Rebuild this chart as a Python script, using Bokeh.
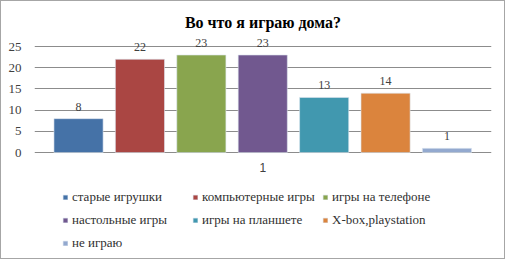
from bokeh.plotting import figure
from bokeh.models import ColumnDataSource, FixedTicker, Legend, LegendItem, LabelSet, Label
from bokeh.embed import file_html
from bokeh.resources import INLINE

title = "Во что я играю дома?"
categories = ["старые игрушки", "компьютерные игры", "игры на телефоне",
              "настольные игры", "игры на планшете", "X-box,playstation", "не играю"]
values = [8, 22, 23, 23, 13, 14, 1]
colors = ["#4572A7", "#AA4643", "#89A54E", "#71588F", "#4198AF", "#DB843D", "#93A9CF"]
y_ticks = [0, 5, 10, 15, 20, 25]
group_label = "1"

SERIF = "Liberation Serif"
SANS = "Liberation Sans"

xs = list(range(1, len(values) + 1))

p = figure(width=505, height=259, output_backend="svg", toolbar_location=None,
           x_range=(0.283, 7.725), y_range=(-25.2, 27.6),
           min_border_left=33, min_border_right=15, min_border_top=34, min_border_bottom=1)
p.outline_line_color = None
p.border_fill_color = "white"
p.background_fill_color = "white"

src = ColumnDataSource(dict(x=xs, top=values, lbl=[str(v) for v in values]))

renderers = []
for i in range(len(values)):
    r = p.vbar(x=[xs[i]], top=[values[i]], bottom=0, width=0.8,
               fill_color=colors[i], line_color="#DDE6F0", line_width=0.6)
    renderers.append(r)

labels = LabelSet(x="x", y="top", text="lbl", source=src, x_offset=0, y_offset=8,
                  text_align="center", text_baseline="alphabetic",
                  text_font=SANS, text_font_size="12px", text_color="#404040")
p.add_layout(labels)

cat = Label(x=4, y=0, text=group_label, y_offset=-10, text_align="center",
            text_baseline="top", text_font=SANS, text_font_size="12px",
            text_color="#404040")
p.add_layout(cat)

p.title.text = title
p.title.align = "center"
p.title.text_font = SERIF
p.title.text_font_size = "16px"
p.title.text_font_style = "bold"
p.title.text_color = "black"
p.title.offset = 0
p.title.standoff = 10

p.xaxis.visible = False
p.xgrid.visible = False
p.ygrid.grid_line_color = "#8C8C8C"
p.ygrid.grid_line_width = 1
p.yaxis.ticker = FixedTicker(ticks=y_ticks)
p.yaxis.axis_line_color = None
p.yaxis.major_tick_line_color = None
p.yaxis.minor_tick_line_color = None
p.yaxis.major_label_text_font = SERIF
p.yaxis.major_label_text_font_size = "13px"
p.yaxis.major_label_text_color = "#404040"
p.yaxis.major_label_standoff = 7

items = [LegendItem(label=categories[i], renderers=[renderers[i]]) for i in range(len(values))]
legend = Legend(items=items, orientation="horizontal", ncols=3,
                location=(28, 6), glyph_width=6, glyph_height=6,
                label_text_font=SERIF, label_text_font_size="13px",
                label_text_color="#303030", label_standoff=4, label_width=118,
                label_height=21, spacing=2, padding=0, margin=0,
                border_line_color=None, background_fill_alpha=0)
p.add_layout(legend, "center")

p.styles = {"border": "1px solid #A6A6A6", "box-sizing": "border-box"}

open("out.html", "w").write(file_html(p, INLINE))
